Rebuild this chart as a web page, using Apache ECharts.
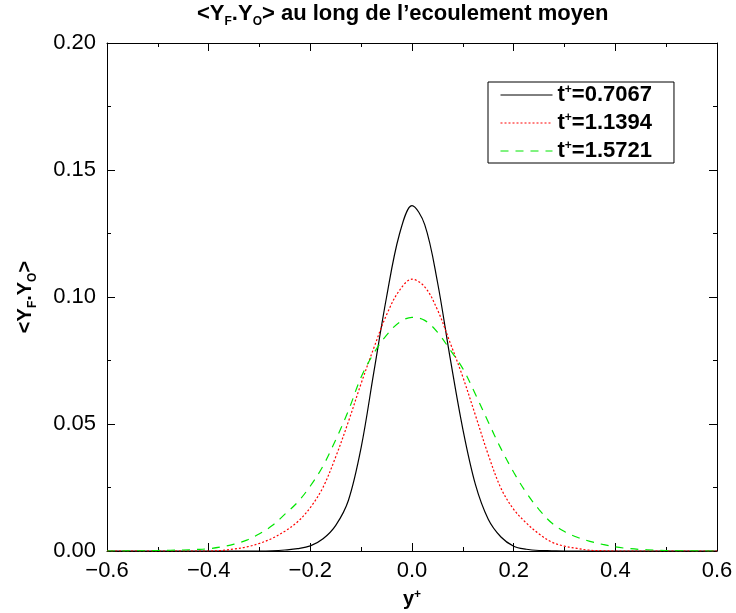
<!DOCTYPE html>
<html>
<head>
<meta charset="utf-8">
<script src="https://cdn.jsdelivr.net/npm/echarts@6/dist/echarts.min.js"></script>
<style>
html, body { margin: 0; padding: 0; background: #fff; }
#chart { width: 736px; height: 613px; }
</style>
</head>
<body>
<div id="chart"></div>
<script>
// y+ positions (x axis)
var xs = [-0.6, -0.575, -0.55, -0.525, -0.5, -0.475, -0.45, -0.425, -0.4, -0.375,
	-0.35, -0.325, -0.3, -0.275, -0.25, -0.225, -0.2, -0.175, -0.15, -0.125,
	-0.1, -0.075, -0.05, -0.025, 0, 0.025, 0.05, 0.075, 0.1, 0.125,
	0.15, 0.175, 0.2, 0.225, 0.25, 0.275, 0.3, 0.325, 0.35, 0.375,
	0.4, 0.425, 0.45, 0.475, 0.5, 0.525, 0.55, 0.575, 0.6];

// t+=0.7067
var blackVals = [0, 0, 0, 0, 0, 0, 0, 0, 0, 0,
	0, 0, 0, 0.0001, 0.0004, 0.0009, 0.0020, 0.0048, 0.0101, 0.0200,
	0.0408, 0.0705, 0.1000, 0.1245, 0.1360, 0.1285, 0.1060, 0.0760, 0.0480, 0.0260,
	0.0125, 0.0055, 0.0019, 0.0007, 0.0002, 0.0001, 0, 0, 0, 0,
	0, 0, 0, 0, 0, 0, 0, 0, 0];

// t+=1.1394
var redVals = [0, 0, 0, 0, 0, 0, 0, 0, 0, 0.0002,
	0.0008, 0.0016, 0.0030, 0.0050, 0.0078, 0.0115, 0.0171, 0.0251, 0.0371, 0.0510,
	0.0660, 0.0800, 0.0930, 0.1025, 0.1070, 0.1040, 0.0950, 0.0820, 0.0685, 0.0533,
	0.0379, 0.0247, 0.0164, 0.0110, 0.0067, 0.0035, 0.0019, 0.0010, 0.0003, 0.0001,
	0, 0, 0, 0, 0, 0, 0, 0, 0];

// t+=1.5721
var greenVals = [0, 0, 0.0001, 0.0001, 0.0002, 0.0003, 0.0004, 0.0006, 0.0009, 0.0016,
	0.0027, 0.0043, 0.0068, 0.0100, 0.0145, 0.0192, 0.0256, 0.0335, 0.0438, 0.0553,
	0.0685, 0.0779, 0.0850, 0.0900, 0.0920, 0.0908, 0.0862, 0.0792, 0.0718, 0.0616,
	0.0508, 0.0403, 0.0310, 0.0229, 0.0163, 0.0110, 0.0077, 0.0054, 0.0038, 0.0026,
	0.0016, 0.0010, 0.0006, 0.0004, 0.0002, 0.0001, 0.0001, 0, 0];

var seriesNames = ['0.7067', '1.1394', '1.5721'];
var seriesColors = ['#000000', '#ff0000', '#00e600'];

var FONT = 'Liberation Sans';

var pairs = function (vals) {
	return xs.map(function (x, i) { return [x, vals[i]]; });
};

var boxAxis = function (pos, isX, showLabel) {
	return {
		type: 'value',
		position: pos,
		min: isX ? -0.6 : 0,
		max: isX ? 0.6 : 0.2,
		interval: isX ? 0.2 : 0.05,
		splitLine: { show: false },
		axisLine: { show: true, onZero: false, lineStyle: { color: '#000', width: 1 } },
		axisTick: { show: true, inside: true, length: 8, lineStyle: { color: '#000', width: 1 } },
		minorTick: { show: true, splitNumber: 2, length: 4, lineStyle: { color: '#000', width: 1 } },
		axisLabel: {
			show: showLabel,
			color: '#000',
			fontFamily: FONT,
			fontSize: 22,
			margin: isX ? 9 : 11,
			formatter: function (v) {
				if (isX) {
					if (Math.abs(v) < 1e-9) return '0.0';
					return (v < 0 ? '\u2212' : '') + Math.abs(v).toFixed(1);
				}
				return v.toFixed(2);
			}
		}
	};
};

var bottomX = boxAxis('bottom', true, true);
bottomX.name = '{m|y}{s|+}';
bottomX.nameLocation = 'middle';
bottomX.nameGap = 38;
bottomX.nameTextStyle = {
	rich: {
		m: { fontFamily: FONT, fontSize: 20, fontWeight: 'bold', color: '#000', lineHeight: 22, verticalAlign: 'top' },
		s: { fontFamily: FONT, fontSize: 12, fontWeight: 'bold', color: '#000', lineHeight: 12, verticalAlign: 'top' }
	}
};

var leftY = boxAxis('left', false, true);
leftY.name = '{m|<Y}{b|F}{m|.Y}{b|O}{m|>}';
leftY.nameLocation = 'middle';
leftY.nameRotate = 90;
leftY.nameGap = 70;
leftY.nameTextStyle = {
	rich: {
		m: { fontFamily: FONT, fontSize: 20, fontWeight: 'bold', color: '#000', lineHeight: 22, verticalAlign: 'top' },
		b: { fontFamily: FONT, fontSize: 12, fontWeight: 'bold', color: '#000', lineHeight: 12, padding: [12, 0, 0, 0], verticalAlign: 'top' }
	}
};

var lineTypes = ['solid', [2, 2], [8, 7]];

var option = {
	animation: false,
	backgroundColor: '#fff',
	title: {
		text: '{m|<Y}{b|F}{m|.Y}{b|O}{m|> au long de l\u2019ecoulement moyen}',
		left: 197,
		top: 3,
		padding: 0,
		textStyle: {
			rich: {
				m: { fontFamily: FONT, fontSize: 22, fontWeight: 'bold', color: '#000', lineHeight: 24, verticalAlign: 'top' },
				b: { fontFamily: FONT, fontSize: 12, fontWeight: 'bold', color: '#000', lineHeight: 12, padding: [13, 0, 0, 0], verticalAlign: 'top' }
			}
		}
	},
	legend: {
		orient: 'vertical',
		left: 488,
		top: 82,
		padding: [2, 22, 1, 12],
		itemWidth: 52,
		itemHeight: 14,
		itemGap: 6,
		itemTextGap: 10,
		selectedMode: false,
		borderColor: '#000',
		borderWidth: 1,
		backgroundColor: '#fff',
		itemStyle: { opacity: 0 },
		lineStyle: { width: 1 },
		data: seriesNames,
		formatter: function (name) { return '{m|t}{s|+}{m|=' + name + '}'; },
		textStyle: {
			rich: {
				m: { fontFamily: FONT, fontSize: 22, fontWeight: 'bold', color: '#000', lineHeight: 22, verticalAlign: 'top' },
				s: { fontFamily: FONT, fontSize: 12, fontWeight: 'bold', color: '#000', lineHeight: 12, verticalAlign: 'top' }
			}
		}
	},
	grid: {
		left: 107,
		right: 19,
		top: 43,
		bottom: 62,
		containLabel: false,
		outerBoundsMode: 'none'
	},
	xAxis: [bottomX, boxAxis('top', true, false)],
	yAxis: [leftY, boxAxis('right', false, false)],
	series: [blackVals, redVals, greenVals].map(function (vals, i) {
		return {
			name: seriesNames[i],
			type: 'line',
			xAxisIndex: 0,
			yAxisIndex: 0,
			data: pairs(vals),
			smooth: 0.35,
			showSymbol: false,
			symbol: 'none',
			color: seriesColors[i],
			lineStyle: { color: seriesColors[i], width: 1.2, type: lineTypes[i] }
		};
	})
};

echarts.init(document.getElementById('chart')).setOption(option);
</script>
</body>
</html>
